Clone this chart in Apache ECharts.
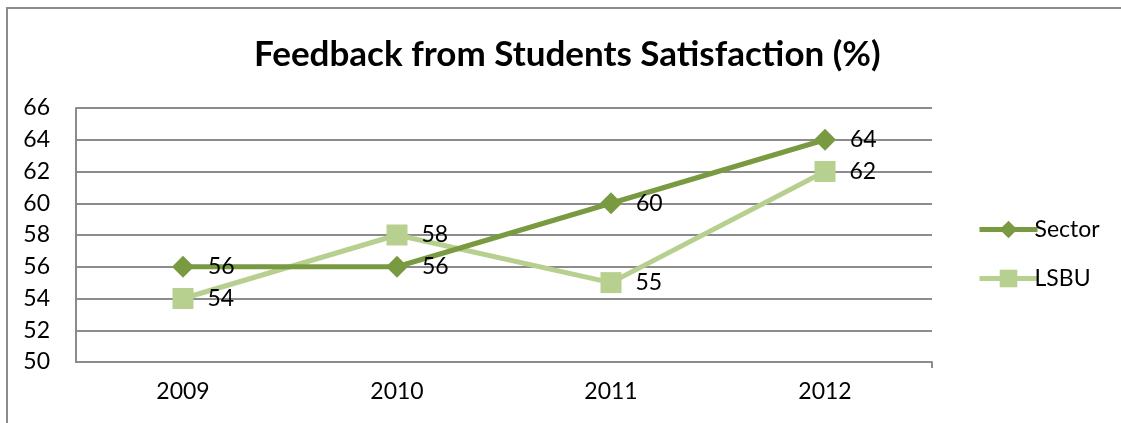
<!DOCTYPE html>
<html><head><meta charset="utf-8">
<script src="https://cdn.jsdelivr.net/npm/echarts@6/dist/echarts.min.js"></script>
<style>html,body{margin:0;padding:0;background:#fff}#c{width:1121px;height:423px}</style>
</head><body><div id="c"></div>
<script>
const categories = ['2009', '2010', '2011', '2012'];
const sectorValues = [56, 56, 60, 64];
const lsbuValues = [54, 58, 55, 62];
const yTicks = { min: 50, max: 66, interval: 2 };

const chart = echarts.init(document.getElementById('c'), null, { renderer: 'canvas' });
const font = 'Lato, "Open Sans", sans-serif';
const labelStyle = { show: true, position: 'right', distance: 14, color: '#000', fontSize: 23, fontFamily: font };
const gray = '#8c8c8c';
chart.setOption({
  animation: false,
  backgroundColor: '#fff',
  title: {
    text: 'Feedback from Students Satisfaction (%)',
    left: 249, top: 32,
    textStyle: { fontSize: 35, fontWeight: 'bold', color: '#000', fontFamily: font }
  },
  graphic: [{
    type: 'rect', shape: { x: 7, y: 8, width: 1300, height: 600 },
    style: { fill: 'none', stroke: gray, lineWidth: 2 }, silent: true
  }],
  legend: {
    orient: 'vertical', left: 972, top: 213, itemGap: 26,
    itemWidth: 58, itemHeight: 22,
    lineStyle: { width: 5 },
    textStyle: { fontSize: 23, color: '#000', fontFamily: font, padding: [0, 0, 0, -8] },
    data: ['Sector', 'LSBU']
  },
  grid: { left: 76, right: 189, top: 108, bottom: 61, containLabel: false },
  xAxis: {
    type: 'category', data: categories, boundaryGap: true,
    axisLine: { lineStyle: { color: gray, width: 2 } },
    axisTick: { alignWithLabel: true, length: 6, lineStyle: { color: gray, width: 2 } },
    axisLabel: { fontSize: 23, color: '#000', fontFamily: font, margin: 18 }
  },
  yAxis: {
    type: 'value', min: yTicks.min, max: yTicks.max, interval: yTicks.interval,
    axisLine: { show: true, lineStyle: { color: gray, width: 2 } },
    axisTick: { show: false },
    splitLine: { lineStyle: { color: gray, width: 2 } },
    axisLabel: { fontSize: 23, color: '#000', fontFamily: font, margin: 26 }
  },
  series: [
    {
      name: 'Sector', type: 'line', data: sectorValues,
      symbol: 'diamond', symbolSize: 22,
      lineStyle: { color: '#7a9a42', width: 5 },
      itemStyle: { color: '#7a9a42' },
      label: labelStyle, z: 3
    },
    {
      name: 'LSBU', type: 'line', data: lsbuValues,
      symbol: 'rect', symbolSize: 21,
      lineStyle: { color: '#b7d08f', width: 5 },
      itemStyle: { color: '#b7d08f' },
      label: labelStyle, z: 2
    }
  ]
});
// closing tick at the right end of the category axis, placed from the axis scale
const n = categories.length;
const cLast = chart.convertToPixel({ xAxisIndex: 0 }, categories[n - 1]);
const cPrev = chart.convertToPixel({ xAxisIndex: 0 }, categories[n - 2]);
const xEnd = cLast + (cLast - cPrev) / 2;
const yBase = chart.convertToPixel({ yAxisIndex: 0 }, yTicks.min);
chart.setOption({
  graphic: [{}, {
    type: 'line', shape: { x1: xEnd, y1: yBase, x2: xEnd, y2: yBase + 6 },
    style: { stroke: gray, lineWidth: 2 }, silent: true
  }]
});
</script></body></html>
